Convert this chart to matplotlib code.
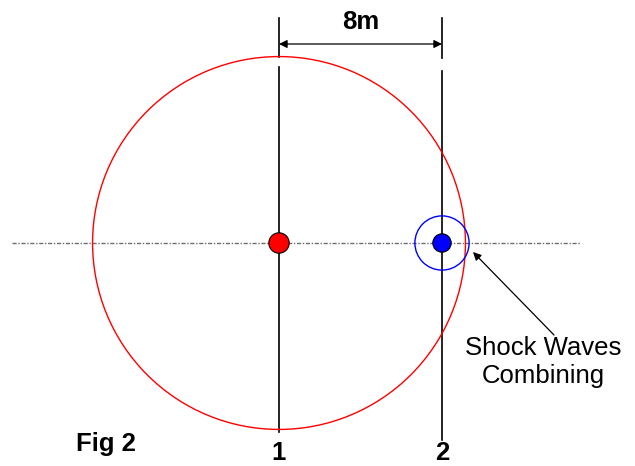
import matplotlib
matplotlib.use("Agg")
import matplotlib.pyplot as plt
from matplotlib.patches import Circle

plt.rcParams['font.family'] = ['Liberation Sans', 'DejaVu Sans']

# Data (metres)
source_labels = ['1', '2']
source_x = [0.0, 8.0]
source_colors = ['#ff0000', '#0000ff']
dot_radius = [0.5, 0.45]
wave_radius = [9.15, 1.33]
wave_colors = ['#ff0000', '#0000ff']
separation_label = '8m'
annotation_text = 'Shock Waves\nCombining'
figure_label = 'Fig 2'

PX = 20.375  # pixels per metre
W, H = 635, 466
cx_px, cy_px = 279, 243

fig = plt.figure(figsize=(W / 100, H / 100), dpi=100)
ax = fig.add_axes([0, 0, 1, 1])
ax.set_xlim(-cx_px / PX, (W - cx_px) / PX)
ax.set_ylim(-(H - cy_px) / PX, cy_px / PX)
ax.axis('off')

def py(p):
    return (cy_px - p) / PX

def px(p):
    return (p - cx_px) / PX

# horizontal centre line
ax.plot([px(12), px(580)], [0, 0], color='#6e6e6e', lw=1.0,
        linestyle=(0, (3, 1.2, 1, 1.2)), zorder=1)

# vertical lines (extension segment + main segment)
ext_top = [py(18), py(18)]
ext_bot = [py(57), py(58)]
main_top = [py(67), py(71)]
main_bot = [py(432), py(440)]
for i, x in enumerate(source_x):
    ax.plot([x, x], [ext_top[i], ext_bot[i]], color='black', lw=1.2, zorder=2)
    ax.plot([x, x], [main_top[i], main_bot[i]], color='black', lw=1.2, zorder=2)
    ax.text(x, py(460), source_labels[i], ha='center', va='baseline',
            fontsize=18.5, fontweight='bold')

# wave circles
for x, r, c in zip(source_x, wave_radius, wave_colors):
    ax.add_patch(Circle((x, 0), r, fill=False, edgecolor=c, lw=1.0, zorder=3))

# source dots
for x, r, c in zip(source_x, dot_radius, source_colors):
    ax.add_patch(Circle((x, 0), r, facecolor=c, edgecolor='black', lw=0.8, zorder=4))

# dimension arrow
ax.annotate('', xy=(source_x[0], py(44)), xytext=(source_x[1], py(44)),
            arrowprops=dict(arrowstyle='<|-|>', color='black', lw=0.9,
                            mutation_scale=12, shrinkA=0, shrinkB=0))
ax.text((source_x[0] + source_x[1]) / 2, py(22), separation_label,
        ha='center', va='center', fontsize=18.5, fontweight='bold')

# annotation
ax.annotate('', xy=(px(473), py(252)), xytext=(px(554), py(335)),
            arrowprops=dict(arrowstyle='-|>', color='black', lw=0.9,
                            mutation_scale=12, shrinkA=0, shrinkB=0))
ax.text(px(543), py(362), annotation_text, ha='center', va='center',
        fontsize=18.5, linespacing=1.18)

ax.text(px(106), py(444), figure_label, ha='center', va='center',
        fontsize=18.5, fontweight='bold')

fig.savefig('out.png', dpi=100)
